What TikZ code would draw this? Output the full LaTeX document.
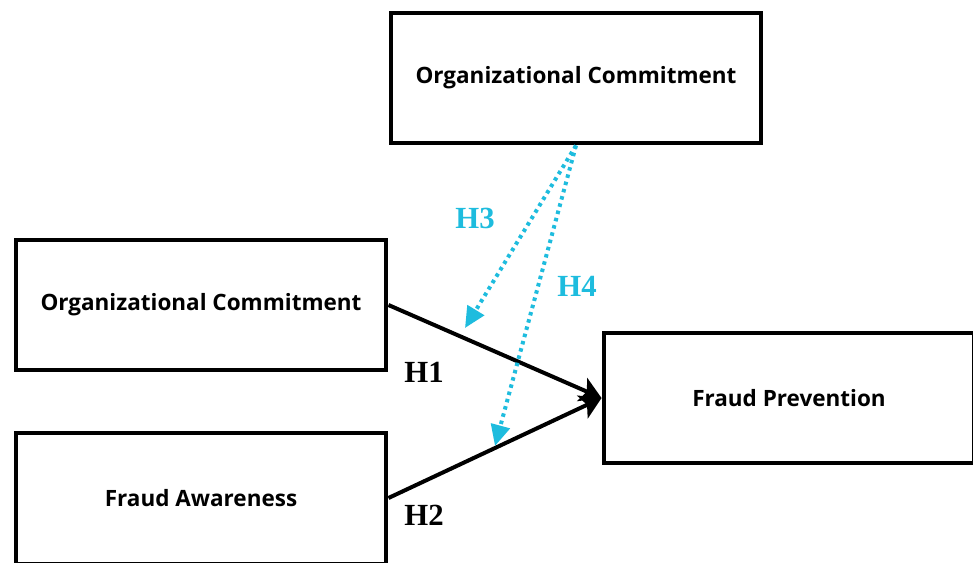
\documentclass[tikz,border=0pt]{standalone}
\usetikzlibrary{arrows.meta}
\usepackage{fontspec}
\newfontfamily\boxfont{Open Sans}
\newfontfamily\hypfont{Liberation Serif}
\definecolor{hypcyan}{RGB}{30,188,222}

\begin{document}
\begin{tikzpicture}[x=0.02cm,y=-0.02cm,line width=0.08cm,
  construct/.style={draw,minimum width=7.42cm,minimum height=2.62cm,
    font=\boxfont\bfseries\fontsize{12.8}{14}\selectfont},
  hyp/.style={font=\hypfont\bfseries\fontsize{17.5}{19}\selectfont},
  direct/.style={-{Stealth[length=0.42cm,width=0.5cm,inset=0.1cm]}},
  moderate/.style={hypcyan,dash pattern=on 0.07cm off 0.08cm,
    -{Triangle[length=0.42cm,width=0.38cm]}}]
\useasboundingbox (0,0) rectangle (973,562);
\clip (0,0) rectangle (973,562);
% the four constructs
\node[construct] (moder) at (576,78) {Organizational Commitment};
\node[construct] (orgc) at (201,305) {Organizational Commitment};
\node[construct] (aware) at (201,498) {Fraud Awareness};
\node[construct] (prev) at (789,398) {Fraud Prevention};
% direct effects
\draw[direct] (orgc.east) -- (prev.west);
\draw[direct] (aware.east) -- (prev.west);
\node[hyp] (h1) at (424,372) {H1};
\node[hyp] (h2) at (424,515) {H2};
% moderating effects
\coordinate (h3end) at (465,328);
\coordinate (h4end) at (495,446);
\draw[moderate] (moder.south) -- (h3end);
\draw[moderate] (moder.south) -- (h4end);
\node[hyp,hypcyan] (h3) at (475,218) {H3};
\node[hyp,hypcyan] (h4) at (577,286) {H4};
\end{tikzpicture}
\end{document}
